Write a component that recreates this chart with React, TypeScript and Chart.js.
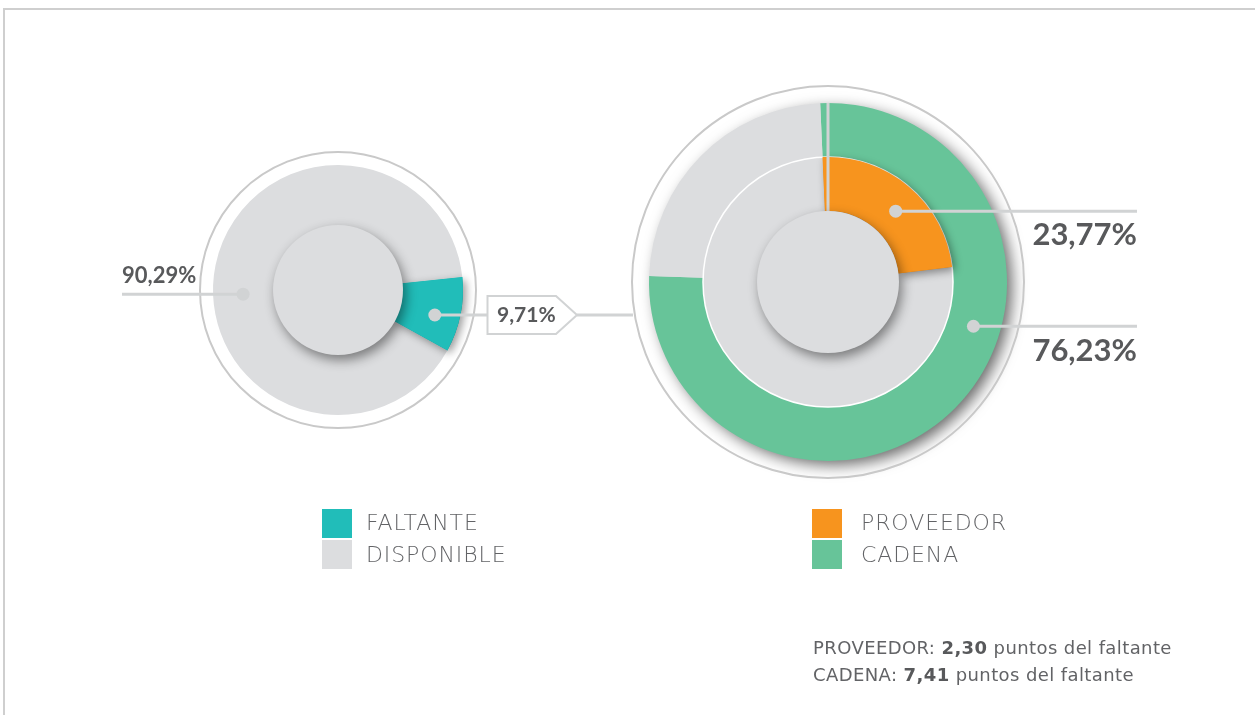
import React, { useEffect, useRef } from "react";
import { Chart, registerables } from "chart.js";

Chart.register(...registerables);

// ---------- data ----------
const leftLabels = ["FALTANTE", "DISPONIBLE"];
const leftValues = [9.71, 90.29];
const leftColors = ["#21BDB9", "#DCDDDF"];
const leftValueText = ["9,71%", "90,29%"];

const rightLabels = ["PROVEEDOR", "CADENA"];
const cadenaRing = [76.23, 23.77]; // CADENA, resto (outer ring)
const proveedorRing = [23.77, 76.23]; // PROVEEDOR, resto (inner ring)
const rightColors = ["#F7941E", "#67C499"];
const restColor = "#DCDDDF";
const rightValueText = ["23,77%", "76,23%"];

const footLabels = ["PROVEEDOR", "CADENA"];
const footPoints = ["2,30", "7,41"];
const footSuffix = " puntos del faltante";

// ---------- layout ----------
const W = 1255;
const H = 715;
const LC = { x: 338, y: 290, r: 125, disc: 65, ring: 138 };
const RC = { x: 828, y: 282, r: 179, disc: 71, ring: 196 };
const LINE = "#D1D3D4";
const TEXT = "#58595B";
const LIGHT = "#626366";
const FONT = "Lato, 'Open Sans', sans-serif";
const FONT2 = "'DejaVu Sans', 'Open Sans', sans-serif";

const deg = Math.PI / 180;

function anchor(arc: any, biasDeg: number, radius: number) {
  const a = (arc.startAngle + arc.endAngle) / 2 + biasDeg * deg;
  return { x: arc.x + Math.cos(a) * radius, y: arc.y + Math.sin(a) * radius };
}

function dot(ctx: CanvasRenderingContext2D, p: { x: number; y: number }) {
  ctx.beginPath();
  ctx.fillStyle = LINE;
  ctx.arc(p.x, p.y, 6.5, 0, Math.PI * 2);
  ctx.fill();
}

function hline(ctx: CanvasRenderingContext2D, x1: number, x2: number, y: number) {
  ctx.beginPath();
  ctx.strokeStyle = LINE;
  ctx.lineWidth = 3;
  ctx.moveTo(x1, y);
  ctx.lineTo(x2, y);
  ctx.stroke();
}

function disc(ctx: CanvasRenderingContext2D, x: number, y: number, r: number) {
  ctx.save();
  ctx.shadowColor = "rgba(0,0,0,0.45)";
  ctx.shadowBlur = 12;
  ctx.shadowOffsetX = 3;
  ctx.shadowOffsetY = 5;
  ctx.fillStyle = restColor;
  ctx.beginPath();
  ctx.arc(x, y, r, 0, Math.PI * 2);
  ctx.fill();
  ctx.restore();
}

function shadowRedraw(ctx: CanvasRenderingContext2D, arc: any) {
  ctx.save();
  ctx.shadowColor = "rgba(0,0,0,0.4)";
  ctx.shadowBlur = 9;
  ctx.shadowOffsetX = 3;
  ctx.shadowOffsetY = 3;
  arc.draw(ctx);
  ctx.restore();
}

const leftDeco = {
  id: "leftDeco",
  beforeDatasetsDraw(chart: any) {
    const ctx = chart.ctx as CanvasRenderingContext2D;
    const arc = chart.getDatasetMeta(0).data[0];
    ctx.save();
    ctx.beginPath();
    ctx.strokeStyle = "#C9C9C9";
    ctx.lineWidth = 2;
    ctx.arc(arc.x, arc.y, LC.ring, 0, Math.PI * 2);
    ctx.stroke();
    ctx.restore();
  },
  afterDatasetsDraw(chart: any) {
    const ctx = chart.ctx as CanvasRenderingContext2D;
    const arcs = chart.getDatasetMeta(0).data;
    ctx.save();
    shadowRedraw(ctx, arcs[0]);
    disc(ctx, arcs[0].x, arcs[0].y, LC.disc);
    // FALTANTE leader -> box -> right chart
    const pT = anchor(arcs[0], 3, arcs[0].outerRadius * 0.8);
    hline(ctx, pT.x, 487, pT.y);
    ctx.beginPath();
    ctx.moveTo(487.5, pT.y - 19);
    ctx.lineTo(556, pT.y - 19);
    ctx.lineTo(577, pT.y);
    ctx.lineTo(556, pT.y + 19);
    ctx.lineTo(487.5, pT.y + 19);
    ctx.closePath();
    ctx.fillStyle = "#FFFFFF";
    ctx.fill();
    ctx.strokeStyle = LINE;
    ctx.lineWidth = 2;
    ctx.stroke();
    hline(ctx, 577, 633, pT.y);
    dot(ctx, pT);
    // DISPONIBLE leader
    const pG = anchor(arcs[1], -14, arcs[1].outerRadius * 0.76);
    hline(ctx, 122, pG.x, pG.y);
    dot(ctx, pG);
    ctx.restore();
  },
};

const rightDeco = {
  id: "rightDeco",
  beforeDatasetsDraw(chart: any) {
    const ctx = chart.ctx as CanvasRenderingContext2D;
    const arc = chart.getDatasetMeta(0).data[0];
    ctx.save();
    ctx.shadowColor = "rgba(0,0,0,0.6)";
    ctx.shadowBlur = 15;
    ctx.shadowOffsetX = 6;
    ctx.shadowOffsetY = 5;
    ctx.fillStyle = restColor;
    ctx.beginPath();
    ctx.arc(arc.x, arc.y, arc.outerRadius - 1, 0, Math.PI * 2);
    ctx.fill();
    ctx.restore();
    ctx.save();
    ctx.beginPath();
    ctx.strokeStyle = "#C9C9C9";
    ctx.lineWidth = 2;
    ctx.arc(arc.x, arc.y, RC.ring, 0, Math.PI * 2);
    ctx.stroke();
    ctx.restore();
  },
  afterDatasetsDraw(chart: any) {
    const ctx = chart.ctx as CanvasRenderingContext2D;
    const outer = chart.getDatasetMeta(0).data;
    const inner = chart.getDatasetMeta(1).data;
    const cx = outer[0].x;
    const cy = outer[0].y;
    ctx.save();
    ctx.beginPath();
    ctx.strokeStyle = "#FFFFFF";
    ctx.lineWidth = 1.5;
    ctx.arc(cx, cy, inner[0].outerRadius, 0, Math.PI * 2);
    ctx.stroke();
    shadowRedraw(ctx, inner[0]);
    ctx.beginPath();
    ctx.strokeStyle = LINE;
    ctx.lineWidth = 3;
    ctx.moveTo(cx, cy - outer[0].outerRadius);
    ctx.lineTo(cx, cy - RC.disc);
    ctx.stroke();
    disc(ctx, cx, cy, RC.disc);
    const pO = anchor(inner[0], 3.4, (inner[0].innerRadius + inner[0].outerRadius) / 2);
    hline(ctx, pO.x, 1137, pO.y);
    dot(ctx, pO);
    const pC = anchor(outer[0], -27.8, (outer[0].innerRadius + outer[0].outerRadius) / 2);
    hline(ctx, pC.x, 1137, pC.y);
    dot(ctx, pC);
    ctx.restore();
  },
};

const abs = (s: React.CSSProperties): React.CSSProperties => ({ position: "absolute", ...s });

export default function App() {
  const leftRef = useRef<HTMLCanvasElement>(null);
  const rightRef = useRef<HTMLCanvasElement>(null);

  useEffect(() => {
    const left = new Chart(leftRef.current as HTMLCanvasElement, {
      type: "doughnut",
      data: {
        labels: leftLabels,
        datasets: [{ data: leftValues, backgroundColor: leftColors, borderWidth: 0 }],
      },
      options: {
        responsive: false,
        animation: false,
        rotation: 84,
        cutout: "50%",
        events: [],
        layout: {
          padding: { left: LC.x - LC.r, right: W - LC.x - LC.r, top: LC.y - LC.r, bottom: H - LC.y - LC.r },
        },
        plugins: { legend: { display: false }, tooltip: { enabled: false } },
      },
      plugins: [leftDeco],
    } as any);

    const right = new Chart(rightRef.current as HTMLCanvasElement, {
      type: "doughnut",
      data: {
        labels: [rightLabels[1], "resto"],
        datasets: [
          { label: rightLabels[1], data: cadenaRing, backgroundColor: [rightColors[1], restColor], borderWidth: 0 },
          { label: rightLabels[0], data: proveedorRing, backgroundColor: [rightColors[0], restColor], borderWidth: 0 },
        ],
      },
      options: {
        responsive: false,
        animation: false,
        rotation: -2.5,
        cutout: (RC.disc / RC.r) * 100 + "%",
        events: [],
        layout: {
          padding: { left: RC.x - RC.r, right: W - RC.x - RC.r, top: RC.y - RC.r, bottom: H - RC.y - RC.r },
        },
        plugins: { legend: { display: false }, tooltip: { enabled: false } },
      },
      plugins: [rightDeco],
    } as any);

    return () => {
      left.destroy();
      right.destroy();
    };
  }, []);

  const num = (size: number): React.CSSProperties => ({
    fontFamily: FONT,
    fontWeight: 700,
    fontSize: size,
    lineHeight: size + "px",
    color: TEXT,
    whiteSpace: "nowrap",
  });
  const legendText: React.CSSProperties = {
    fontFamily: FONT2,
    fontWeight: 200,
    fontSize: 22,
    lineHeight: "22px",
    letterSpacing: 0.9,
    color: LIGHT,
    whiteSpace: "nowrap",
  };
  const foot: React.CSSProperties = {
    fontFamily: FONT2,
    fontWeight: 400,
    fontSize: 18,
    lineHeight: "18px",
    letterSpacing: 0.4,
    color: LIGHT,
    whiteSpace: "nowrap",
  };

  return (
    <div style={abs({ left: 0, top: 0, width: W, height: H, overflow: "hidden", background: "#FFFFFF" })}>
      <div
        style={abs({
          left: 3,
          top: 8,
          width: W - 3,
          height: H - 8,
          borderTop: "2px solid #CFCFCF",
          borderLeft: "2px solid #CFCFCF",
          boxSizing: "border-box",
        })}
      />
      <canvas ref={leftRef} width={W} height={H} style={abs({ left: 0, top: 0 })} />
      <canvas ref={rightRef} width={W} height={H} style={abs({ left: 0, top: 0 })} />

      <div style={abs({ left: 122, top: 264, ...num(22) })}>{leftValueText[1]}</div>
      <div style={abs({ left: 497, top: 303, ...num(21) })}>{leftValueText[0]}</div>
      <div style={abs({ right: W - 1137, top: 218, ...num(31) })}>{rightValueText[0]}</div>
      <div style={abs({ right: W - 1137, top: 334, ...num(31) })}>{rightValueText[1]}</div>

      {leftLabels.map((l, i) => (
        <React.Fragment key={l}>
          <div style={abs({ left: 322, top: 509 + i * 31, width: 30, height: 29, background: leftColors[i] })} />
          <div style={abs({ left: 366, top: 512 + i * 32, ...legendText })}>{l}</div>
        </React.Fragment>
      ))}
      {rightLabels.map((l, i) => (
        <React.Fragment key={l}>
          <div style={abs({ left: 812, top: 509 + i * 31, width: 30, height: 29, background: rightColors[i] })} />
          <div style={abs({ left: 861, top: 512 + i * 32, ...legendText })}>{l}</div>
        </React.Fragment>
      ))}

      {footLabels.map((l, i) => (
        <div key={l} style={abs({ left: 813, top: 639 + i * 27, ...foot })}>
          {l}: <b style={{ fontWeight: 700, color: TEXT }}>{footPoints[i]}</b>
          {footSuffix}
        </div>
      ))}
    </div>
  );
}
